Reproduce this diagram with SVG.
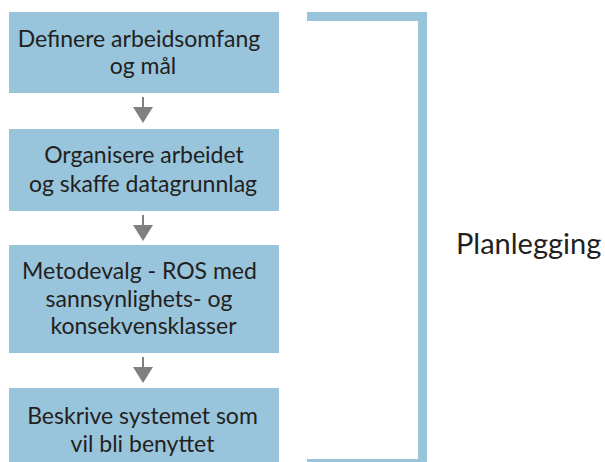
<svg xmlns="http://www.w3.org/2000/svg" width="605" height="462" viewBox="0 0 605 462">
<defs>
<style>
.box{fill:#98c4dc}
.t{font-family:Lato,"Open Sans",sans-serif;font-size:23px;fill:#231f20;text-anchor:middle}
.big{font-family:Lato,"Open Sans",sans-serif;font-size:29px;fill:#231f20}
.stem{stroke:#808083;stroke-width:2;fill:none}
.head{fill:#808083}
</style>
</defs>
<rect width="605" height="462" fill="#fff"/>
<g id="n1"><rect class="box" x="9" y="12" width="270" height="81"/>
<text class="t" x="139" y="47">Definere arbeidsomfang</text>
<text class="t" x="143" y="74">og mål</text></g>
<g id="n2"><rect class="box" x="9" y="129" width="270" height="82"/>
<text class="t" x="144" y="163">Organisere arbeidet</text>
<text class="t" x="143" y="192">og skaffe datagrunnlag</text></g>
<g id="n3"><rect class="box" x="9" y="245" width="270" height="108"/>
<text class="t" x="139.5" y="279">Metodevalg - ROS med</text>
<text class="t" x="139" y="307">sannsynlighets- og</text>
<text class="t" x="143.5" y="334">konsekvensklasser</text></g>
<g id="n4"><rect class="box" x="9" y="388" width="270" height="74"/>
<text class="t" x="142.5" y="424">Beskrive systemet som</text>
<text class="t" x="142.5" y="452">vil bli benyttet</text></g>
<g id="connectors">
<path class="stem" d="M143 97V108"/><path class="head" d="M133 107H153L143 123Z"/>
<path class="stem" d="M143 215V226"/><path class="head" d="M133 225H153L143 241Z"/>
<path class="stem" d="M143 357V368"/><path class="head" d="M133 367H153L143 383Z"/>
</g>
<g id="bracket">
<path d="M307 16.5H422.5V459" fill="none" stroke="#98c4dc" stroke-width="9"/>
<rect x="307" y="459" width="120" height="3" fill="#98c4dc"/>
</g>
<g id="label"><text class="big" x="456" y="254">Planlegging</text></g>
</svg>
